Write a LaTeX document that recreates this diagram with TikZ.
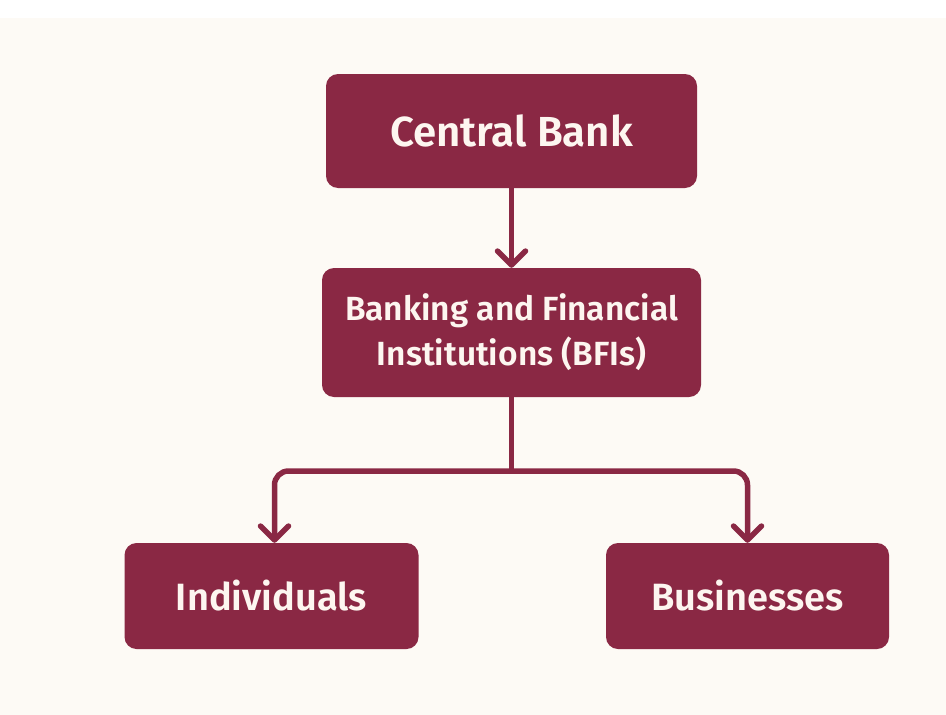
\documentclass[tikz,border=0pt]{standalone}
\usepackage{fontspec}
\setmainfont{Fira Sans}
\newfontfamily\labfont{Fira Sans SemiBold}
\usetikzlibrary{arrows.meta}
\definecolor{maroon}{RGB}{138,40,68}
\definecolor{cream}{RGB}{253,250,245}
\definecolor{labtext}{RGB}{253,246,240}
\tikzset{
  box/.style={draw=none, fill=maroon, rounded corners=12pt, text=labtext,
    font=\labfont, align=center, inner sep=0pt},
  link/.style={draw=maroon, line width=5.5pt, line cap=round, line join=round},
  arr/.style={link, -{Straight Barb[length=14pt,width=28pt,line cap=round,line join=round]}}
}
\begin{document}
\begin{tikzpicture}[x=1pt,y=-1pt]
\useasboundingbox (0,0) rectangle (946,715);
\fill[white] (0,0) rectangle (946,715);
\fill[cream] (0,18) rectangle (946,715);

\node[box, minimum width=371pt, minimum height=114pt, font=\labfont\fontsize{42}{46}\selectfont] (cb) at (511.5,131) {Central Bank};
\node[box, minimum width=379pt, minimum height=129pt, font=\labfont\fontsize{33.5}{45}\selectfont] (bfi) at (511.5,332.5) {Banking and Financial\\Institutions (BFIs)};
\node[box, minimum width=294pt, minimum height=106pt, font=\labfont\fontsize{38}{40}\selectfont] (ind) at (271.5,596) {Individuals};
\node[box, minimum width=283pt, minimum height=106pt, font=\labfont\fontsize{38}{40}\selectfont] (bus) at (747.5,596) {Businesses};

\coordinate (j) at (511.5,471);
\draw[arr] (cb.south) -- (bfi.north);
\draw[link] (bfi.south) -- (j);
\draw[arr, rounded corners=14pt] (j) -| ([xshift=3pt]ind.north);
\draw[arr, rounded corners=14pt] (j) -| (bus.north);
\end{tikzpicture}
\end{document}
